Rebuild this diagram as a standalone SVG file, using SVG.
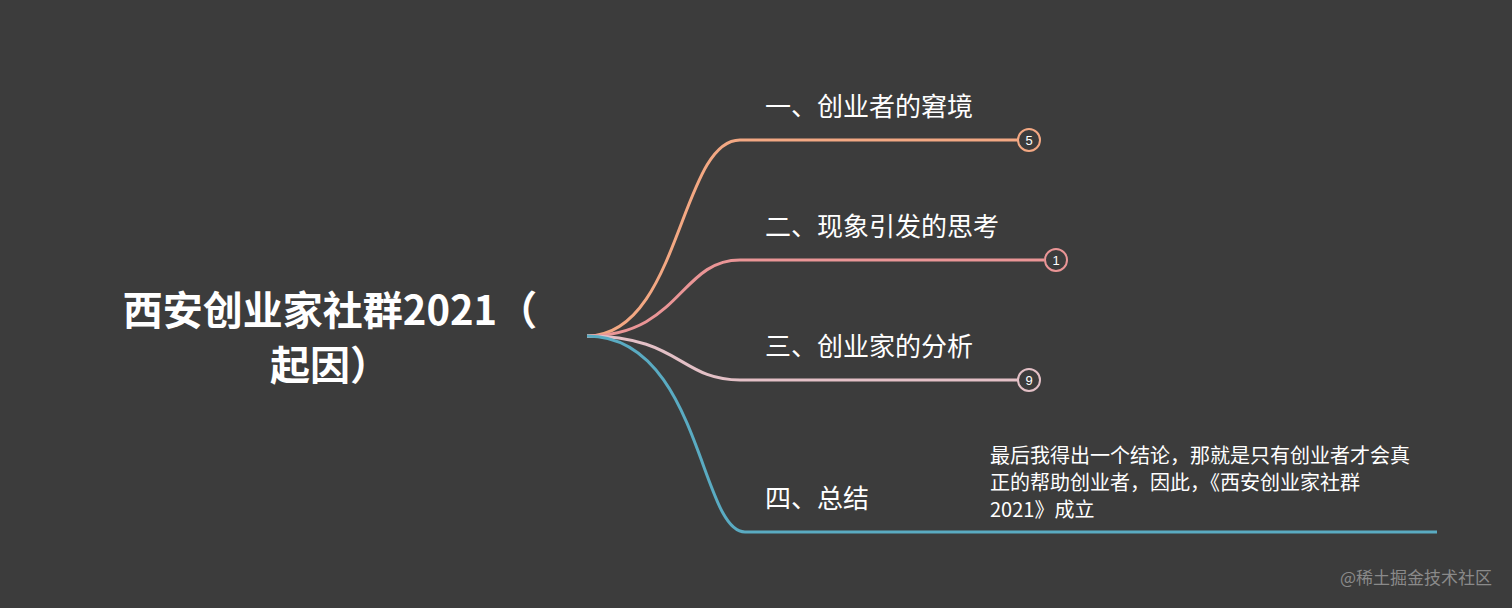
<svg xmlns="http://www.w3.org/2000/svg" width="1512" height="608" viewBox="0 0 1512 608">
<style>
.t{font-family:"Noto Sans CJK SC","Noto Sans",sans-serif;fill:#fff}
.b{font-size:26px}
.c{fill:none;stroke-width:3}
.n{font-family:"Liberation Sans",sans-serif;font-size:13px;text-anchor:middle}
</style>
<rect width="1512" height="608" fill="#3c3c3c"/>
<g id="connectors">
<path class="c" stroke="#f3a883" d="M587 336C680 336 680 140 740 140H1018"/>
<path class="c" stroke="#ea9596" d="M587 336C680 336 680 260 740 260H1044"/>
<path class="c" stroke="#e3c0c6" d="M587 336C680 336 680 380 740 380H1018"/>
<path class="c" stroke="#5aabc2" d="M587 336C700 336 700 532 745 532H1437"/>
<circle cx="1029" cy="140" r="11" fill="none" stroke="#f3a883" stroke-width="2"/>
<circle cx="1056" cy="260" r="11" fill="none" stroke="#ea9596" stroke-width="2"/>
<circle cx="1029" cy="380" r="11" fill="none" stroke="#e3c0c6" stroke-width="2"/>
<text class="t n" x="1029" y="145">5</text>
<text class="t n" x="1056" y="265">1</text>
<text class="t n" x="1029" y="385">9</text>
</g>
<g id="root"><text class="t" font-size="40" font-weight="bold" text-anchor="middle"><tspan x="330" y="325">西安创业家社群2021（</tspan><tspan x="330" y="380">起因）</tspan></text></g>
<g id="n1"><text class="t b" x="765" y="116">一、创业者的窘境</text></g>
<g id="n2"><text class="t b" x="765" y="236">二、现象引发的思考</text></g>
<g id="n3"><text class="t b" x="765" y="356">三、创业家的分析</text></g>
<g id="n4"><text class="t b" x="765" y="508">四、总结</text></g>
<g id="n5"><text class="t" font-size="20"><tspan x="990" y="463">最后我得出一个结论，那就是只有创业者才会真</tspan><tspan x="990" y="490">正的帮助创业者，因此，《西安创业家社群</tspan><tspan x="990" y="517">2021》成立</tspan></text></g>
<text x="1492" y="584" font-family="Noto Sans CJK SC,sans-serif" font-size="17" fill="#8a8a8a" text-anchor="end">@稀土掘金技术社区</text>
</svg>
